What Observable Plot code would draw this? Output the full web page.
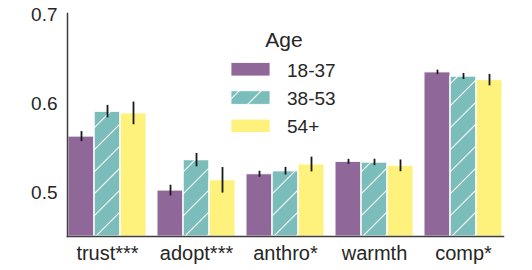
<!DOCTYPE html>
<html><head><meta charset="utf-8">
<script src="https://cdn.jsdelivr.net/npm/d3@7"></script>
<script src="https://cdn.jsdelivr.net/npm/@observablehq/plot@0.6"></script>
<style>
body{margin:0;background:#fff;}
#wrap{position:relative;width:532px;height:270px;font-family:"Liberation Sans",Arial,sans-serif;}
#legend{position:absolute;left:0;top:0;pointer-events:none;}
</style></head><body><div id="wrap"></div>
<script>
const categories = ["trust***","adopt***","anthro*","warmth","comp*"];
const ages = ["18-37","38-53","54+"];
const colors = ["#8F6798","#7ABDBA","#FEF17C"];
const mean1837 = [0.562, 0.5015, 0.5198, 0.5337, 0.634];
const mean3853 = [0.590, 0.5356, 0.5232, 0.533, 0.6294];
const mean54 = [0.588, 0.513, 0.5307, 0.5292, 0.6253];
const err1837 = [0.0056, 0.006, 0.0034, 0.0028, 0.0025];
const err3853 = [0.007, 0.0075, 0.0043, 0.0036, 0.0034];
const err54 = [0.0127, 0.0143, 0.0083, 0.0066, 0.0064];
const yTicks = [0.5, 0.6, 0.7];
const yMin = 0.45, yMax = 0.7;

const means = [mean1837, mean3853, mean54];
const errs = [err1837, err3853, err54];
const rows = [];
categories.forEach((c, i) => ages.forEach((a, j) => rows.push({category: c, age: a, mean: means[j][i], err: errs[j][i]})));

const spine = {stroke: "#3d3d3d", strokeWidth: 1.5};
const chart = Plot.plot({
  width: 532, height: 270,
  marginLeft: 43, marginRight: 6, marginTop: 13, marginBottom: 34,
  style: {fontFamily: "'Liberation Sans', Arial, sans-serif", fontSize: "20px", color: "#262626", background: "#fff"},
  fx: {domain: categories, paddingInner: 0.106, paddingOuter: 0.25, label: null},
  x: {domain: ages, padding: 0, axis: null},
  y: {domain: [yMin, yMax]},
  color: {domain: ages, range: colors},
  marks: [
    Plot.barY(rows, {fx: "category", x: "age", y1: yMin, y2: "mean", fill: "age", stroke: "white", strokeWidth: 1}),
    Plot.barY(rows.filter(d => d.age === "38-53"), {fx: "category", x: "age", y1: yMin, y2: "mean", fill: "url(#hatch)", stroke: "white", strokeWidth: 1}),
    Plot.ruleX(rows, {fx: "category", x: "age", y1: d => d.mean - d.err, y2: d => d.mean + d.err, stroke: "#1a1a1a", strokeWidth: 1.8}),
    Plot.axisY({ticks: yTicks, tickSize: 0, tickPadding: 10, tickFormat: ".1f", label: null, fontSize: 19, dy: 1.5}),
    Plot.axisFx({anchor: "bottom", tickSize: 0, tickPadding: 9, label: null, fontSize: 20}),
    Plot.frame({anchor: "left", facet: "super", ...spine}),
    Plot.frame({anchor: "bottom", facet: "super", ...spine})
  ]
});

function addHatch(svgSel, id) {
  const p = svgSel.append("defs").append("pattern")
    .attr("id", id).attr("patternUnits", "userSpaceOnUse")
    .attr("width", 22).attr("height", 22);
  p.append("path").attr("d", "M-2,2 L2,-2 M0,22 L22,0 M20,24 L24,20")
    .attr("stroke", "white").attr("stroke-width", 1.1).attr("fill", "none");
}
addHatch(d3.select(chart), "hatch");
document.getElementById("wrap").appendChild(chart);

// legend overlay
const leg = d3.select("#wrap").append("svg").attr("id", "legend")
  .attr("width", 532).attr("height", 270)
  .style("font-family", "'Liberation Sans', Arial, sans-serif");
addHatch(leg, "hatchLeg");
leg.append("text").attr("x", 284).attr("y", 47).attr("text-anchor", "middle").attr("fill", "#262626")
  .style("font-size", "21px").text("Age");
ages.forEach((a, j) => {
  const top = 62.5 + j * 28.3;
  leg.append("rect").attr("x", 231).attr("y", top).attr("width", 39).attr("height", 13.5)
    .attr("fill", colors[j]).attr("stroke", "white").attr("stroke-width", 0.8);
  if (a === "38-53") leg.append("rect").attr("x", 231).attr("y", top).attr("width", 39).attr("height", 13.5)
    .attr("fill", "url(#hatchLeg)");
  leg.append("text").attr("x", 287).attr("y", top + 14.3).attr("fill", "#262626")
    .style("font-size", "19px").text(a);
});
</script></body></html>
